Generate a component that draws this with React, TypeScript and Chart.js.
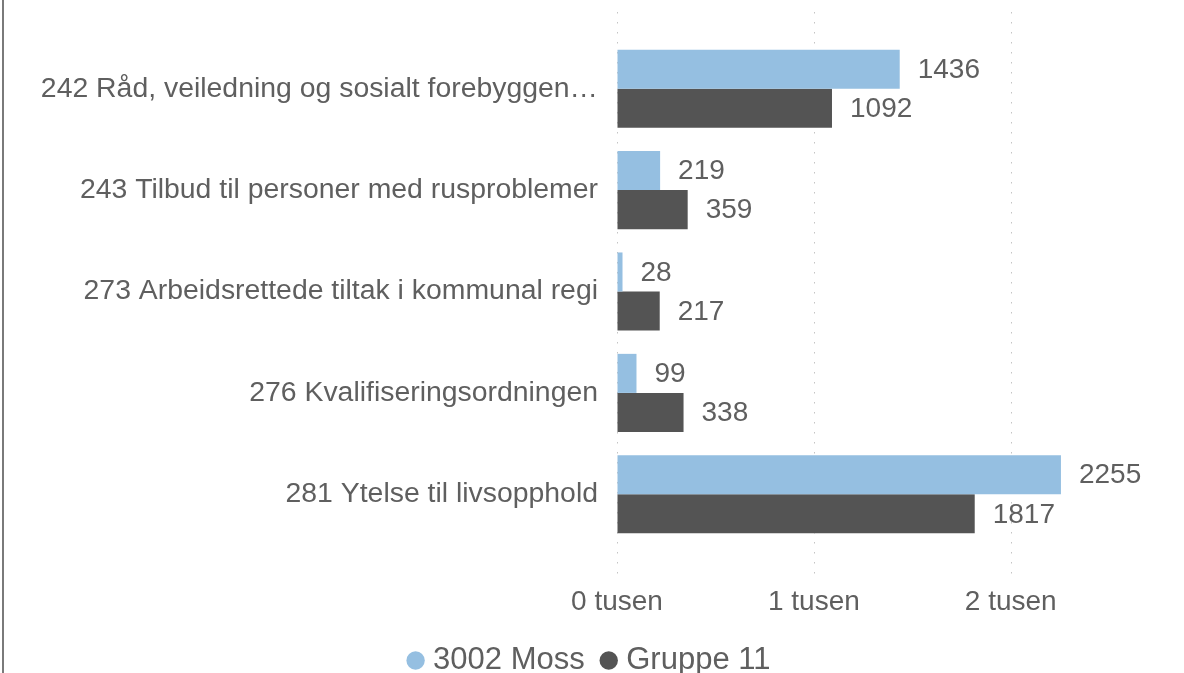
import React, { useEffect, useRef } from "react";
import { Chart, registerables } from "chart.js";

Chart.register(...registerables);

const categories = [
  "242 Råd, veiledning og sosialt forebyggen…",
  "243 Tilbud til personer med rusproblemer",
  "273 Arbeidsrettede tiltak i kommunal regi",
  "276 Kvalifiseringsordningen",
  "281 Ytelse til livsopphold",
];
const mossValues = [1436, 219, 28, 99, 2255];
const gruppeValues = [1092, 359, 217, 338, 1817];
const seriesNames = ["3002 Moss", "Gruppe 11"];
const tickValues = [0, 1000, 2000];
const tickSuffix = " tusen";

const FONT = "'Liberation Sans', Arial, sans-serif";
const TEXT = "#5f5f5f";

const gridPlugin = {
  id: "dottedGrid",
  beforeDatasetsDraw(chart: any) {
    const x = chart.scales.x;
    const ctx = chart.ctx;
    ctx.save();
    ctx.strokeStyle = "#c4c4c4";
    ctx.lineWidth = 1;
    ctx.setLineDash([1.5, 8.5]);
    x.ticks.forEach((t: any) => {
      const px = Math.round(x.getPixelForValue(t.value)) + 0.5;
      ctx.beginPath();
      ctx.moveTo(px, 12);
      ctx.lineTo(px, 578);
      ctx.stroke();
    });
    ctx.restore();
  },
};

const valueLabelPlugin = {
  id: "valueLabels",
  afterDatasetsDraw(chart: any) {
    const ctx = chart.ctx;
    ctx.save();
    ctx.font = `28px ${FONT}`;
    ctx.fillStyle = TEXT;
    ctx.textAlign = "left";
    ctx.textBaseline = "middle";
    chart.data.datasets.forEach((ds: any, i: number) => {
      const meta = chart.getDatasetMeta(i);
      meta.data.forEach((bar: any, j: number) => {
        ctx.fillText(String(ds.data[j]), bar.x + 18, bar.y + 1);
      });
    });
    ctx.restore();
  },
};

export default function App() {
  const ref = useRef<HTMLCanvasElement>(null);
  useEffect(() => {
    if (!ref.current) return;
    const chart = new Chart(ref.current, {
      type: "bar",
      data: {
        labels: categories,
        datasets: [
          {
            label: seriesNames[0],
            data: mossValues,
            backgroundColor: "#95bfe1",
            categoryPercentage: 0.77,
            barPercentage: 1,
          },
          {
            label: seriesNames[1],
            data: gruppeValues,
            backgroundColor: "#545454",
            categoryPercentage: 0.77,
            barPercentage: 1,
          },
        ],
      },
      options: {
        indexAxis: "y",
        responsive: false,
        animation: false,
        layout: { padding: { top: 38, right: 0, left: 0, bottom: 2 } },
        plugins: {
          tooltip: { enabled: false },
          legend: {
            position: "bottom",
            labels: {
              usePointStyle: true,
              pointStyle: "circle",
              boxWidth: 4,
              boxHeight: 13,
              padding: 22,
              color: TEXT,
              font: { family: FONT, size: 31 },
            },
          },
        },
        scales: {
          x: {
            min: 0,
            max: 2880,
            grid: { drawOnChartArea: false, drawTicks: false },
            border: { display: false },
            afterBuildTicks: (scale: any) => {
              scale.ticks = tickValues.map((v) => ({ value: v }));
            },
            afterFit: (scale: any) => {
              scale.height = 78;
            },
            ticks: {
              padding: 40,
              color: TEXT,
              font: { family: FONT, size: 28 },
              maxRotation: 0,
              autoSkip: false,
              callback: (v: any) => `${Number(v) / 1000}${tickSuffix}`,
            },
          },
          y: {
            grid: { display: false, drawTicks: false },
            border: { display: false },
            ticks: {
              padding: 19,
              color: TEXT,
              font: { family: FONT, size: 28.4 },
            },
            afterFit: (scale: any) => {
              scale.width = 617;
            },
          },
        },
      },
      plugins: [gridPlugin, valueLabelPlugin],
    });
    return () => chart.destroy();
  }, []);
  return (
    <div style={{ position: "fixed", left: 0, top: 0, width: 1184, height: 673, background: "#fff", overflow: "hidden" }}>
      <div style={{ position: "absolute", left: 2, top: 0, width: 2, height: 673, background: "#7a7a7a", zIndex: 1 }} />
      <canvas ref={ref} width={1184} height={688} style={{ position: "absolute", left: 0, top: 0 }} />
    </div>
  );
}
